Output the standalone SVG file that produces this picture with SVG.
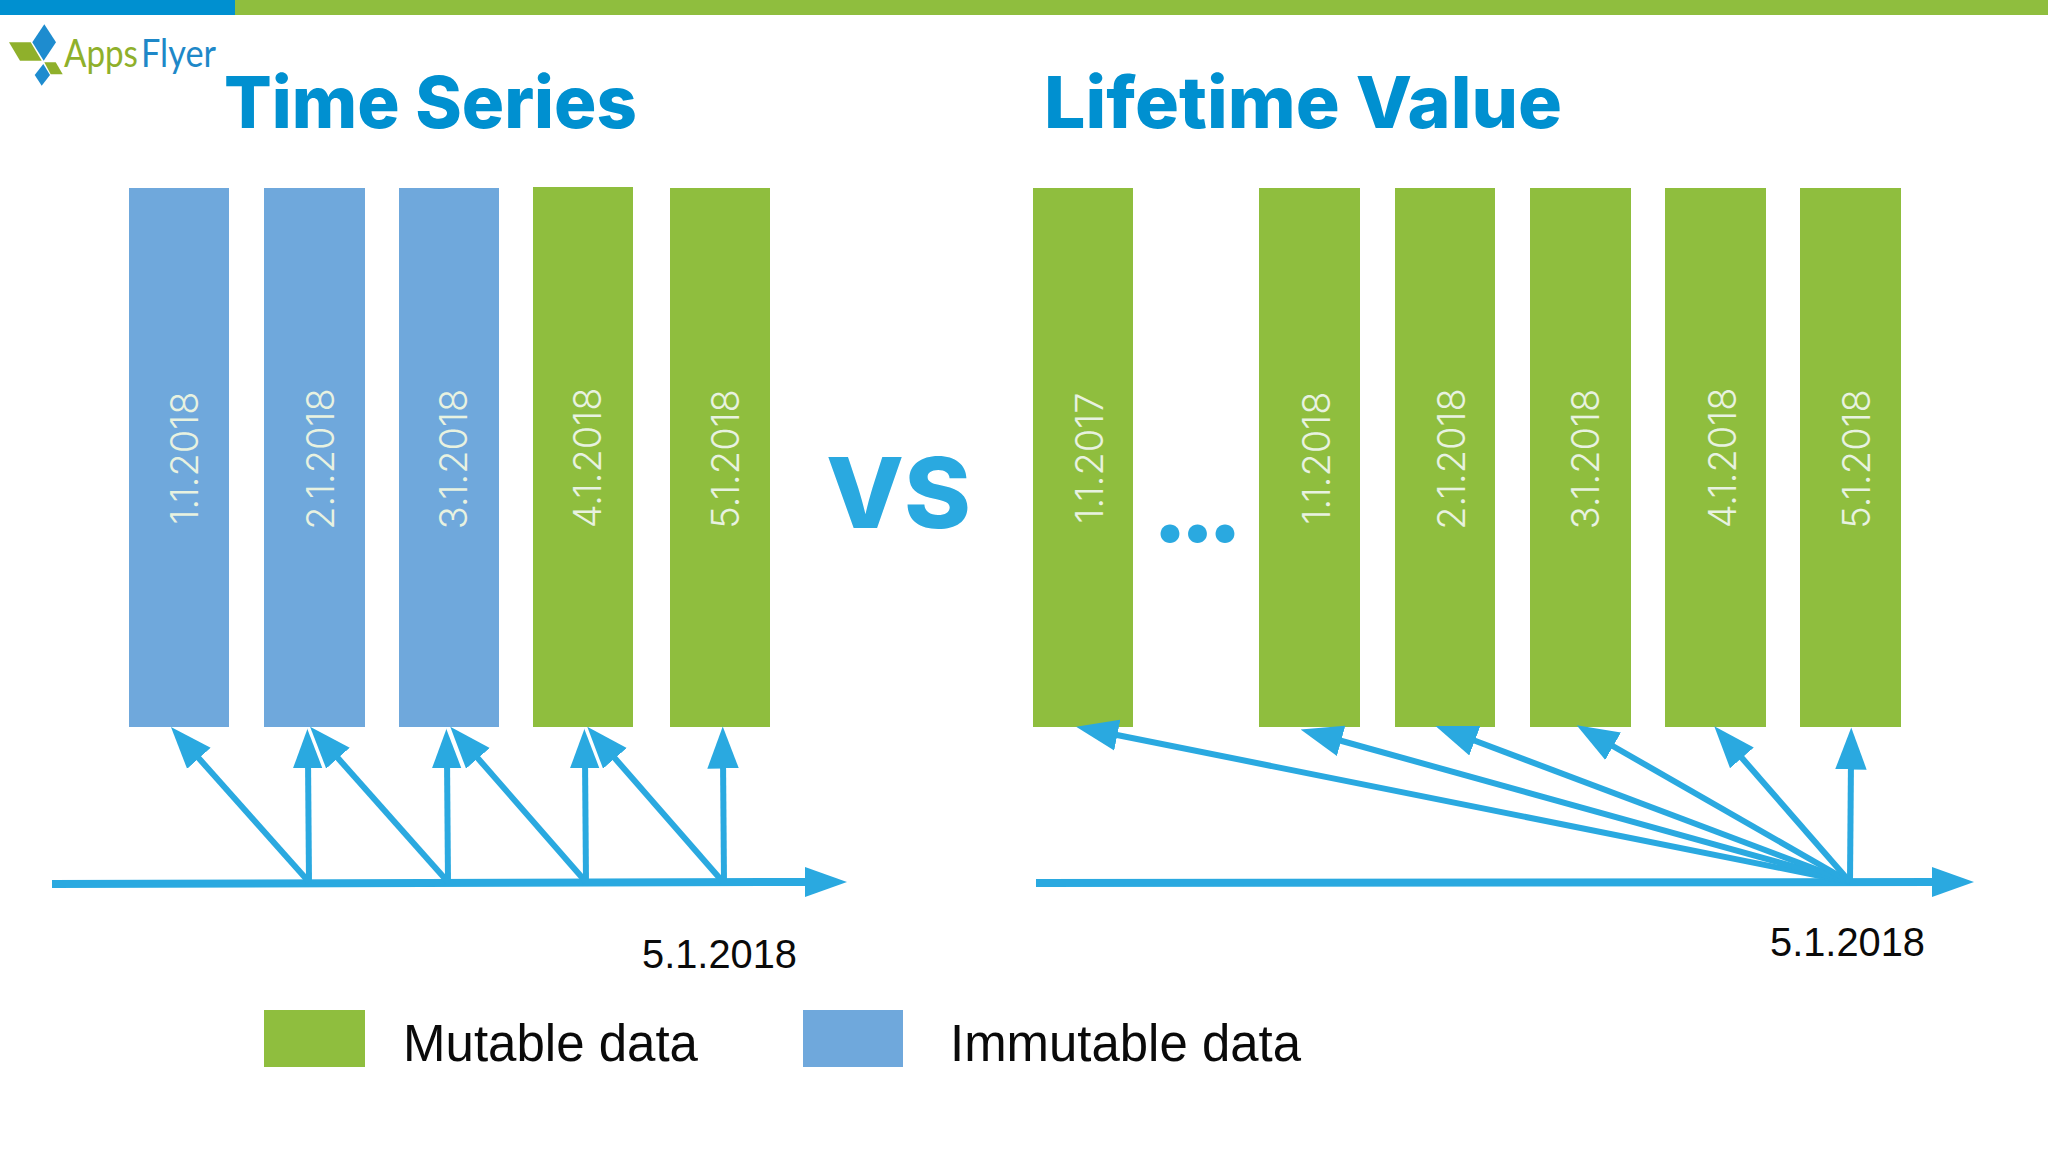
<svg xmlns="http://www.w3.org/2000/svg" width="2048" height="1152" viewBox="0 0 2048 1152">
<style>
.g{fill:#8fbe3e}.b{fill:#6fa8dc}
.title{font-family:Inter,"Liberation Sans",sans-serif;font-weight:800;font-size:72px;fill:#0090d0}
.bl{font-family:Inter,"Open Sans",sans-serif;font-weight:300;font-size:38px;fill:#e8f2e0;text-anchor:middle}
.date{font-family:"Liberation Sans",Arial,sans-serif;font-size:39.8px;fill:#0a0a0a}
.leg{font-family:"Liberation Sans",Arial,sans-serif;font-size:51px;fill:#0a0a0a}
.a{stroke:#2aa9e0;stroke-width:6;fill:none;marker-end:url(#h)}
.v{stroke:#2aa9e0;stroke-width:6;fill:none;marker-end:url(#hw)}
.ax{stroke:#2aa9e0;stroke-width:8;fill:none;marker-end:url(#hx)}
.logo{font-family:Lato,"Open Sans",sans-serif;font-size:38px}
</style>
<defs>
<marker id="h" markerUnits="userSpaceOnUse" markerWidth="42" markerHeight="32" viewBox="0 0 40 30" refX="10" refY="15" orient="auto"><path d="M0 0L40 15L0 30Z" fill="#2aa9e0"/></marker>
<marker id="hw" markerUnits="userSpaceOnUse" markerWidth="46" markerHeight="36" viewBox="-2 -3 44 36" refX="10" refY="15" orient="auto"><path d="M0 0L40 15L0 30Z" fill="#2aa9e0"/><path d="M40 15L0 30" fill="none" stroke="#fff" stroke-width="1.5"/></marker>
<marker id="hx" markerUnits="userSpaceOnUse" markerWidth="42" markerHeight="32" viewBox="0 0 42 30" refX="2" refY="15" orient="auto"><path d="M0 0L42 15L0 30Z" fill="#2aa9e0"/></marker>
</defs>
<rect width="2048" height="1152" fill="#fff"/>
<rect id="bar-blue" x="0" y="0" width="235" height="15" fill="#0090d0"/>
<rect id="bar-green" x="235" y="0" width="1813" height="15" fill="#8fbe3e"/>
<g id="logo">
<path d="M44.3 24.3L56 42.3L43.7 60.7L32.3 42.3Z" fill="#1e8ccf"/>
<path d="M9 42.3H30.7L41.7 60.7H20Z" fill="#8fb02b"/>
<path d="M44.3 62.3H55.7L62.7 74.3H50.7Z" fill="#8fb02b"/>
<path d="M43.3 64L50 75L41.7 85.7L34.7 75Z" fill="#1e8ccf"/>
<text class="logo" x="64" y="67" fill="#8fb02b" textLength="74" lengthAdjust="spacingAndGlyphs">Apps</text>
<text class="logo" x="141" y="67" fill="#1e88c8" textLength="75" lengthAdjust="spacingAndGlyphs">Flyer</text>
</g>
<text id="title-left" class="title" x="224" y="128" textLength="413" lengthAdjust="spacingAndGlyphs">Time Series</text>
<text id="title-right" class="title" x="1044" y="128" textLength="518" lengthAdjust="spacingAndGlyphs">Lifetime Value</text>
<g id="ts-1"><rect class="b" x="129" y="188" width="100" height="539"/><text class="bl" transform="translate(198 458) rotate(-90)">1.1.2018</text></g>
<g id="ts-2"><rect class="b" x="264" y="188" width="101" height="539"/><text class="bl" transform="translate(334 459) rotate(-90)">2.1.2018</text></g>
<g id="ts-3"><rect class="b" x="399" y="188" width="100" height="539"/><text class="bl" transform="translate(467 459) rotate(-90)">3.1.2018</text></g>
<g id="ts-4"><rect class="g" x="533" y="187" width="100" height="540"/><text class="bl" transform="translate(601 458) rotate(-90)">4.1.2018</text></g>
<g id="ts-5"><rect class="g" x="670" y="188" width="100" height="539"/><text class="bl" transform="translate(739 459) rotate(-90)">5.1.2018</text></g>
<g id="lv-0"><rect class="g" x="1033" y="188" width="100" height="539"/><text class="bl" transform="translate(1103 458) rotate(-90)">1.1.2017</text></g>
<g id="lv-1"><rect class="g" x="1259" y="188" width="101" height="539"/><text class="bl" transform="translate(1330 458) rotate(-90)">1.1.2018</text></g>
<g id="lv-2"><rect class="g" x="1395" y="188" width="100" height="539"/><text class="bl" transform="translate(1465 459) rotate(-90)">2.1.2018</text></g>
<g id="lv-3"><rect class="g" x="1530" y="188" width="101" height="539"/><text class="bl" transform="translate(1599 459) rotate(-90)">3.1.2018</text></g>
<g id="lv-4"><rect class="g" x="1665" y="188" width="101" height="539"/><text class="bl" transform="translate(1736 458) rotate(-90)">4.1.2018</text></g>
<g id="lv-5"><rect class="g" x="1800" y="188" width="101" height="539"/><text class="bl" transform="translate(1870 459) rotate(-90)">5.1.2018</text></g>
<text id="vs" x="826" y="528" font-family="Inter,'Liberation Sans',sans-serif" font-weight="800" font-size="98" fill="#2aa9e0" textLength="145" lengthAdjust="spacingAndGlyphs">VS</text>
<text id="dots" x="1152" y="542" font-family="Inter,'Liberation Sans',sans-serif" font-weight="800" font-size="102" fill="#2aa9e0" textLength="91" lengthAdjust="spacing">...</text>
<g id="connectors">
<path class="ax" d="M52 884L807 882"/>
<path class="a" d="M309 882L191.9 750.5"/>
<path class="a" d="M448 882L331 750.3"/>
<path class="a" d="M586 882L471 750.4"/>
<path class="a" d="M723 882L608 750.4"/>
<path class="v" d="M309 882L308 758"/>
<path class="v" d="M448 882L447 758"/>
<path class="v" d="M586 882L585 758"/>
<path class="a" d="M724 882L723 758"/>
<path class="ax" d="M1036 883L1934 882"/>
<path class="a" d="M1850 882L1107 733"/>
<path class="a" d="M1850 882L1331 738"/>
<path class="a" d="M1850 882L1465 737"/>
<path class="a" d="M1850 882L1604 741"/>
<path class="a" d="M1850 882L1735 750"/>
<path class="a" d="M1850 882L1851 759"/>
</g>
<text id="date-left" class="date" x="642" y="968">5.1.2018</text>
<text id="date-right" class="date" x="1770" y="956">5.1.2018</text>
<g id="legend-mutable"><rect class="g" x="264" y="1010" width="101" height="57"/><text class="leg" x="403" y="1061" textLength="295" lengthAdjust="spacingAndGlyphs">Mutable data</text></g>
<g id="legend-immutable"><rect class="b" x="803" y="1010" width="100" height="57"/><text class="leg" x="950" y="1061" textLength="351" lengthAdjust="spacingAndGlyphs">Immutable data</text></g>
</svg>
